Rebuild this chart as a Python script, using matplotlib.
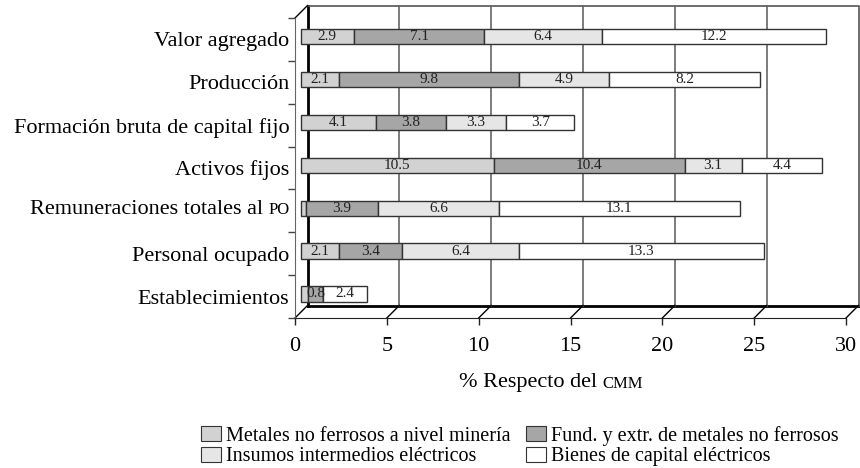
import matplotlib.pyplot as plt
import matplotlib.transforms as mtransforms
from matplotlib.patches import Patch
from matplotlib.offsetbox import TextArea, HPacker, AnnotationBbox

plt.rcParams['font.family'] = ['Liberation Serif', 'DejaVu Serif']

# categories from bottom to top
categories = ['Establecimientos', 'Personal ocupado', 'Remuneraciones totales al PO',
              'Activos fijos', 'Formación bruta de capital fijo', 'Producción',
              'Valor agregado']
series_names = ['Metales no ferrosos a nivel minería',
                'Fund. y extr. de metales no ferrosos',
                'Insumos intermedios eléctricos',
                'Bienes de capital eléctricos']
metales = [0.4, 2.1, 0.3, 10.5, 4.1, 2.1, 2.9]
fundicion = [0.8, 3.4, 3.9, 10.4, 3.8, 9.8, 7.1]
insumos = [0.0, 6.4, 6.6, 3.1, 3.3, 4.9, 6.4]
bienes = [2.4, 13.3, 13.1, 4.4, 3.7, 8.2, 12.2]
xticks = [0, 5, 10, 15, 20, 25, 30]

colors = ['#d2d2d2', '#a6a6a6', '#e6e6e6', '#ffffff']
edge = '#333333'

fig = plt.figure(figsize=(8.6, 4.68), dpi=100)
ax = fig.add_axes([295 / 860, 1 - 318 / 468, (846 - 295) / 860, 300 / 468])
ax.set_xlim(0, 30)
ax.set_ylim(0, len(categories))
ax.patch.set_visible(False)

# depth offsets (pseudo 3d like the original)
back = ax.transData + mtransforms.ScaledTranslation(0.125, 0.125, fig.dpi_scale_trans)
mid = ax.transData + mtransforms.ScaledTranslation(0.057, 0.027, fig.dpi_scale_trans)

# back wall
n = len(categories)
ax.plot([0, 0], [0, n], color='black', lw=2, transform=back, clip_on=False, zorder=1)
ax.plot([0, 30], [0, 0], color='black', lw=2, transform=back, clip_on=False, zorder=1)
ax.plot([0, 30, 30], [n, n, 0], color='#555555', lw=1.2, transform=back, clip_on=False, zorder=1)
for t in xticks[1:-1]:
    ax.plot([t, t], [0, n], color='#666666', lw=1.2, transform=back, clip_on=False, zorder=1)

# diagonals from front to back
inv = ax.transData.inverted()
for t in xticks:
    q0 = inv.transform(ax.transData.transform((t, 0)))
    q1 = inv.transform(back.transform((t, 0)))
    ax.plot([q0[0], q1[0]], [q0[1], q1[1]], color='black', lw=1, clip_on=False, zorder=1)
p0 = inv.transform(ax.transData.transform((0, n)))
p1 = inv.transform(back.transform((0, n)))
ax.plot([p0[0], p1[0]], [p0[1], p1[1]], color='black', lw=1, clip_on=False, zorder=1)

# stacked bars
series = [metales, fundicion, insumos, bienes]
ypos = [i + 0.5 for i in range(n)]
left = [0.0] * n
for vals, c in zip(series, colors):
    bars = ax.barh(ypos, vals, left=left, height=0.357, color=c, edgecolor=edge,
                   linewidth=1, zorder=3)
    for b, v, l, y in zip(bars, vals, left, ypos):
        b.set_transform(mid)
        b.set_clip_on(False)
        if v >= 0.5:
            ax.text(l + v / 2, y, f'{v:.1f}', transform=mid, ha='center', va='center',
                    fontsize=11, color='#222222', zorder=4)
    left = [a + b for a, b in zip(left, vals)]

# axes
for s in ['top', 'right']:
    ax.spines[s].set_visible(False)
ax.spines['left'].set_color('#666666')
ax.spines['bottom'].set_color('#222222')
ax.set_xticks(xticks)
ax.tick_params(axis='x', direction='out', length=5, width=1, pad=9, labelsize=16,
               color='#222222')
ax.set_yticks(ypos)
ax.set_yticks(range(n + 1), minor=True)
labels = [c if 'PO' not in c else '' for c in categories]
ax.set_yticklabels(labels)
ax.tick_params(axis='y', which='major', length=0, pad=4, labelsize=16)
ax.tick_params(axis='y', which='minor', length=5, width=1, color='#444444')

# small caps pieces
idx = categories.index('Remuneraciones totales al PO')
box = HPacker(children=[TextArea('Remuneraciones totales al ', textprops=dict(fontsize=16)),
                        TextArea('PO', textprops=dict(fontsize=12))],
              align='baseline', pad=0, sep=0)
ab = AnnotationBbox(box, (0, ypos[idx]), xycoords=ax.get_yaxis_transform(),
                    xybox=(-4, 0), boxcoords='offset points', box_alignment=(1, 0.45),
                    frameon=False)
ax.add_artist(ab)

xl = HPacker(children=[TextArea('% Respecto del ', textprops=dict(fontsize=16)),
                       TextArea('CMM', textprops=dict(fontsize=12))],
             align='baseline', pad=0, sep=0)
ab2 = AnnotationBbox(xl, (551, 468 - 383), xycoords='figure pixels',
                     box_alignment=(0.5, 0.5), frameon=False)
fig.add_artist(ab2)

# legend
handles = [Patch(facecolor=c, edgecolor=edge, linewidth=0.8, label=s)
           for c, s in zip(colors, series_names)]
order = [0, 2, 1, 3]
fig.legend(handles=[handles[i] for i in order], ncol=2, loc='center',
           bbox_to_anchor=(520 / 860, 1 - 446 / 468), frameon=False, fontsize=14.5,
           handlelength=1.0, handleheight=0.75, handletextpad=0.25, columnspacing=0.75,
           labelspacing=0.05, borderpad=0)

fig.savefig('out.png', dpi=100)
